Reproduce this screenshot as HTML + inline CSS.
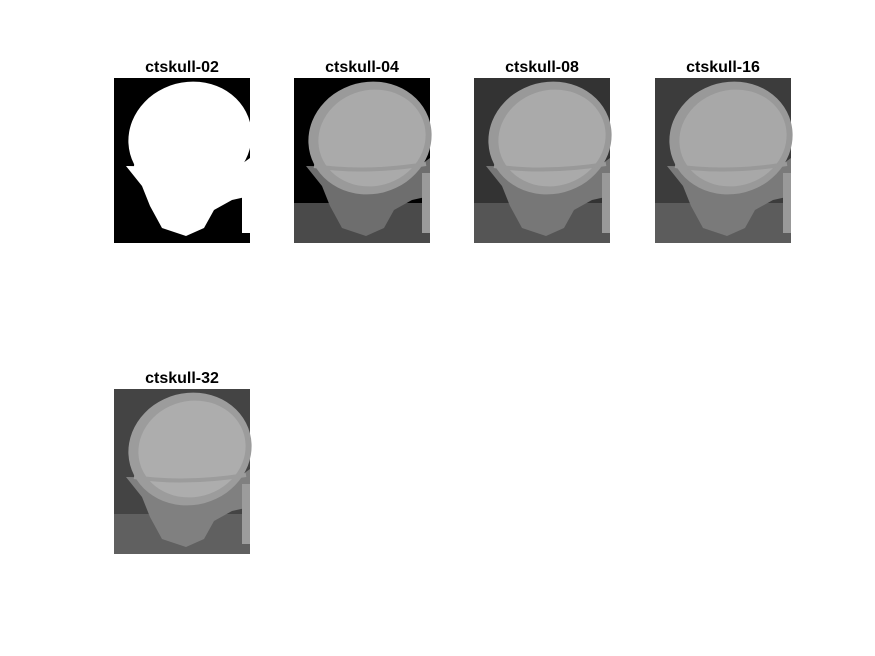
<!DOCTYPE html>
<html><head><meta charset="utf-8"><style>
body{margin:0;background:#fff;}
svg{display:block;}
text{font-family:"Liberation Sans",Arial,sans-serif;font-weight:bold;font-size:16px;}
</style></head><body>
<svg width="875" height="656">
<g id="panels"></g>
</svg>
<script>
const titles=["ctskull-02","ctskull-04","ctskull-08","ctskull-16","ctskull-32"];
const levels=[2,4,8,16,32];
const xs=[114,294,474,655,114], ys=[78,78,78,78,389];
const pal={2:["#000","#000","#fff","#fff","#fff"],4:["#000","#4a4a4a","#6e6e6e","#9a9a9a","#aaa"],8:["#333","#555","#777","#999","#aaa"],16:["#3c3c3c","#5c5c5c","#7a7a7a","#999","#a8a8a8"],32:["#444","#606060","#808080","#9c9c9c","#adadad"]};
const NS="http://www.w3.org/2000/svg";
const root=document.getElementById('panels');
titles.forEach((t,i)=>{
  const c=pal[levels[i]];
  const g=document.createElementNS(NS,'g');
  
  
  g.setAttribute('transform',`translate(${xs[i]},${ys[i]})`);
  g.innerHTML=`<rect width="136" height="165" fill="${c[0]}"/>
  <rect y="125" width="136" height="40" fill="${c[1]}"/>
  <polygon points="12,88 28,108 36,128 48,150 72,158 90,150 100,132 118,122 136,118 136,80 122,90" fill="${c[2]}"/>
  <ellipse cx="76" cy="60" rx="62" ry="56" fill="${c[3]}" transform="rotate(-15 76 60)"/>
  <ellipse cx="78" cy="60" rx="54" ry="48" fill="${c[4]}" transform="rotate(-15 78 60)"/>
  <path d="M20 88 Q70 96 132 86" stroke="${c[3]}" stroke-width="4" fill="none"/>
  <rect x="128" y="95" width="8" height="60" fill="${c[3]}"/>`;
  root.appendChild(g);
  const tx=document.createElementNS(NS,'text');
  
  
  tx.setAttribute('x',xs[i]+68);
  tx.setAttribute('y',ys[i]-6);
  tx.setAttribute('text-anchor','middle');
  tx.textContent=t;
  root.appendChild(tx);
});
</script>
</body></html>
